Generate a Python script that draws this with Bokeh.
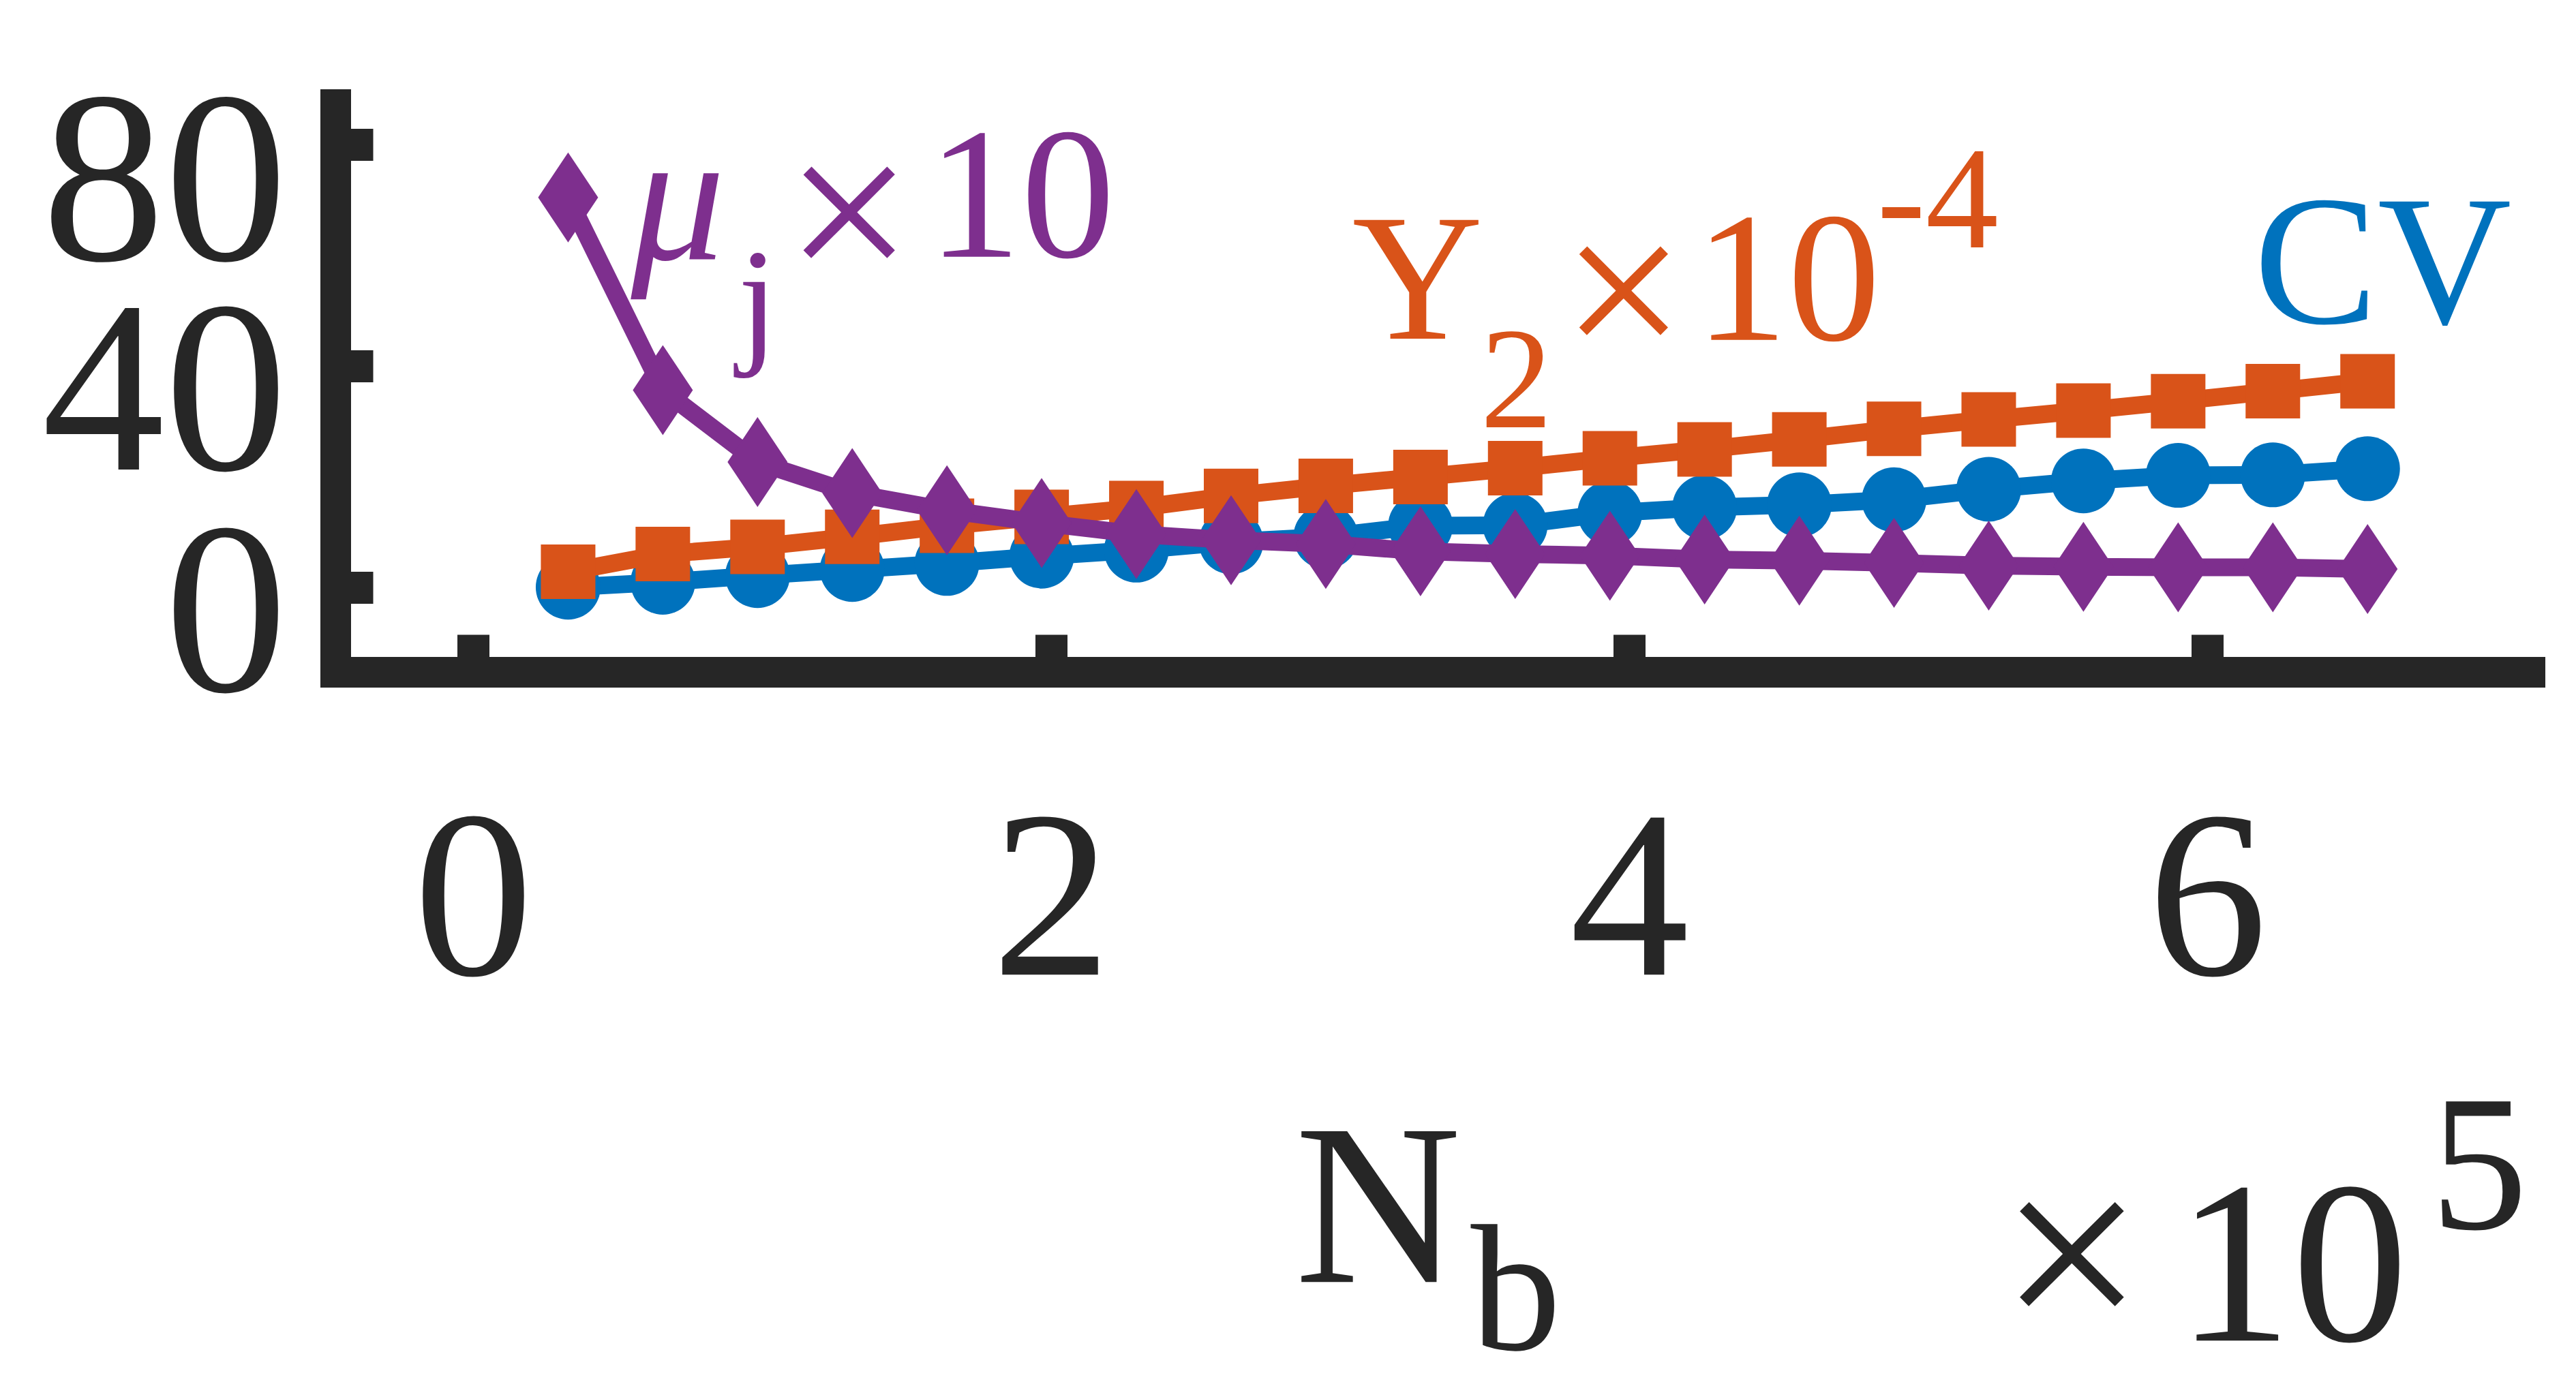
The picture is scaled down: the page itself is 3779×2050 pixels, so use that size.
from bokeh.plotting import figure
from bokeh.layouts import column
from bokeh.models import Range1d, FixedTicker, Label
from bokeh.embed import file_html
from bokeh.resources import INLINE
import numpy as np

# ---------------- data ----------------
nb = [32768, 65536, 98304, 131072, 163840, 196608, 229376, 262144, 294912, 327680,
      360448, 393216, 425984, 458752, 491520, 524288, 557056, 589824, 622592, 655360]
cv = [0.1, 1.0, 2.2, 3.3, 4.4, 5.7, 6.8, 8.3, 9.2, 11.2,
      11.3, 13.5, 14.5, 15.0, 15.9, 17.8, 19.3, 20.3, 20.4, 21.5]
y2_e4 = [2.9, 6.1, 7.4, 9.2, 11.2, 12.8, 14.4, 16.6, 18.4, 20.0,
         21.6, 23.4, 25.0, 26.8, 28.7, 30.4, 32.0, 33.7, 35.5, 37.3]
mu_x10 = [70.5, 35.7, 22.7, 17.1, 14.0, 11.7, 9.7, 8.6, 7.9, 6.6,
          6.1, 5.8, 5.1, 4.9, 4.5, 4.0, 3.8, 3.7, 3.7, 3.4]
x_ticks = [0, 2, 4, 6]
y_ticks = [0, 40, 80]

BLUE = "#0072BD"
ORANGE = "#D95319"
PURPLE = "#7E2F8E"
DARK = "#262626"
FONT = "Liberation Serif"

x = np.array(nb) / 1e5

W = 3779
H1 = 1535
H2 = 2050 - H1
# frame geometry (figure pixels) and ranges
FL, FR, FT, FB = 492, 3711, 153, 986
X0, X1 = -0.47642, 7.11557
Y0, Y1 = -15.26, 87.26

p = figure(width=W, height=H1, output_backend="svg", toolbar_location=None,
           x_range=Range1d(X0, X1), y_range=Range1d(Y0, Y1),
           min_border_left=FL, min_border_right=W - FR,
           min_border_top=FT, min_border_bottom=H1 - FB)
p.grid.visible = False
p.outline_line_color = None
p.background_fill_color = "white"
p.border_fill_color = "white"

for ax in (p.xaxis[0], p.yaxis[0]):
    ax.axis_line_width = 45
    ax.axis_line_color = DARK
    ax.axis_line_cap = "square"
    ax.major_tick_in = 55
    ax.major_tick_out = 0
    ax.major_tick_line_width = 47
    ax.major_tick_line_color = DARK
    ax.minor_tick_line_color = None
    ax.major_label_text_font = FONT
    ax.major_label_text_color = DARK

p.xaxis.major_label_text_font_size = "350px"
p.yaxis.major_label_text_font_size = "360px"
p.xaxis.ticker = FixedTicker(ticks=x_ticks)
p.yaxis.ticker = FixedTicker(ticks=y_ticks)
p.xaxis.major_label_standoff = 214
p.yaxis.major_label_standoff = 71
# nudge the y tick labels slightly below their ticks, as in the original
p.yaxis.major_label_overrides = {t: "\n" + str(t) for t in y_ticks}
p.yaxis.major_label_text_line_height = 0.15

# series
p.line(x, cv, line_width=26, line_color=BLUE)
p.scatter(x, cv, marker="circle", size=95, fill_color=BLUE, line_color=None)
p.line(x, y2_e4, line_width=26, line_color=ORANGE)
p.scatter(x, y2_e4, marker="square", size=80, fill_color=ORANGE, line_color=None)
p.line(x, mu_x10, line_width=26, line_color=PURPLE)
p.scatter(x, mu_x10, marker="diamond", size=132, fill_color=PURPLE, line_color=None)

SHIFT = 0.32  # empirical baseline correction (em)


def dx(rx):
    return X0 + (rx - FL) / (FR - FL) * (X1 - X0)


def dy(ry):
    return Y1 - (ry - FT) / (FB - FT) * (Y1 - Y0)


inner = [
    ("\u03bc", 925, 375, 275, PURPLE, "italic"),
    ("j", 1082, 506, 210, PURPLE, "normal"),
    ("\u00d7", 1152, 415, 330, PURPLE, "normal"),
    ("10", 1360, 374, 275, PURPLE, "normal"),
    ("Y", 1983, 492, 266, ORANGE, "normal"),
    ("2", 2171, 625, 212, ORANGE, "normal"),
    ("\u00d7", 2291, 527, 320, ORANGE, "normal"),
    ("10", 2486, 496, 272, ORANGE, "normal"),
    ("-4", 2753, 360, 214, ORANGE, "normal"),
    ("CV", 3306, 469, 272, BLUE, "normal"),
]
for t, rx, ry, fs, col, style in inner:
    p.add_layout(Label(x=dx(rx), y=dy(ry - SHIFT * fs), text=t, text_font=FONT,
                       text_font_size=f"{fs}px", text_color=col,
                       text_font_style=style, text_align="left",
                       text_baseline="alphabetic"))

# lower strip holding the x-axis title and its multiplier
p2 = figure(width=W, height=H2, output_backend="svg", toolbar_location=None,
            x_range=Range1d(FL, FR), y_range=Range1d(H2, 0),
            x_axis_type=None, y_axis_type=None,
            min_border_left=FL, min_border_right=W - FR,
            min_border_top=0, min_border_bottom=0)
p2.grid.visible = False
p2.outline_line_color = None
p2.background_fill_color = "white"
p2.border_fill_color = "white"

outer = [
    ("N", 1899, 1875, 338, DARK, "normal"),
    ("b", 2157, 1975, 265, DARK, "normal"),
    ("\u00d7", 2933, 1958, 375, DARK, "normal"),
    ("10", 3192, 1964, 340, DARK, "normal"),
    ("5", 3565, 1800, 285, DARK, "normal"),
]
for t, rx, ry, fs, col, style in outer:
    p2.add_layout(Label(x=rx, y=ry - H1 - SHIFT * fs, text=t, text_font=FONT,
                        text_font_size=f"{fs}px", text_color=col,
                        text_font_style=style, text_align="left",
                        text_baseline="alphabetic"))

layout = column(p, p2, spacing=0)
open("out.html", "w").write(file_html(layout, INLINE))
